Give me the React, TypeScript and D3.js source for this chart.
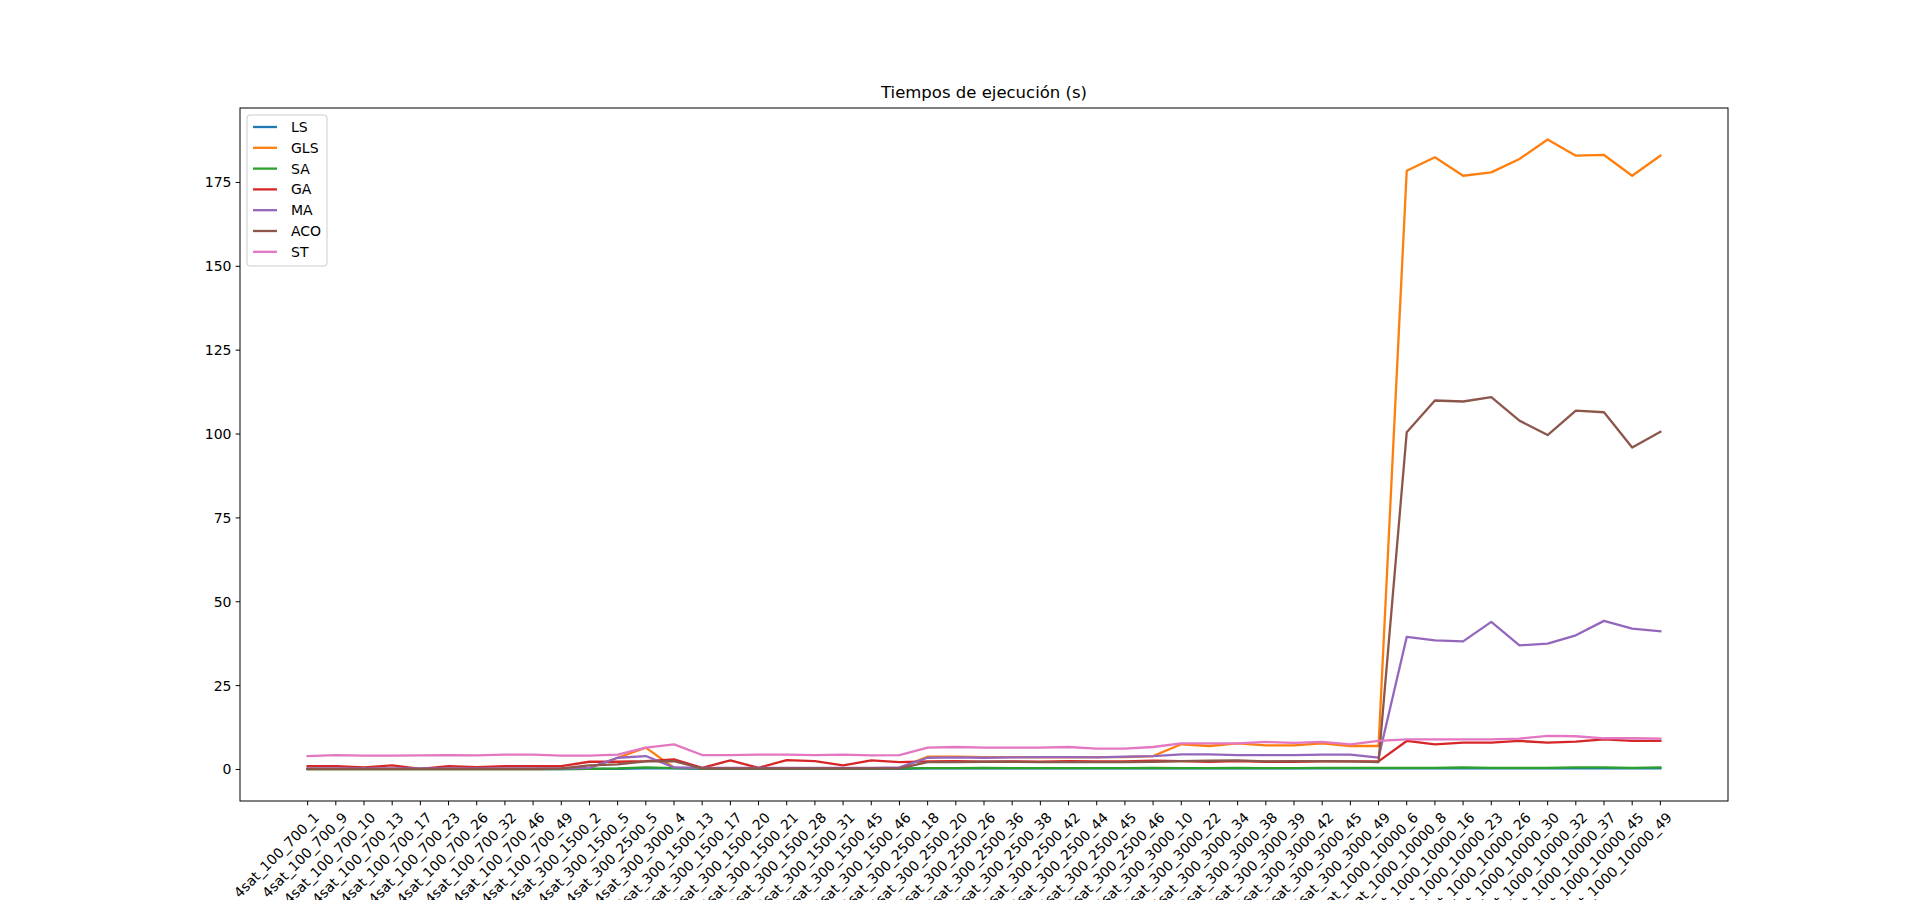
import React from "react";
import * as d3 from "d3";

const categories = [
  "4sat_100_700_1","4sat_100_700_9","4sat_100_700_10","4sat_100_700_13","4sat_100_700_17","4sat_100_700_23","4sat_100_700_26","4sat_100_700_32","4sat_100_700_46","4sat_100_700_49",
  "4sat_300_1500_2","4sat_300_1500_5","4sat_300_2500_5","4sat_300_3000_4",
  "4sat_300_1500_13","4sat_300_1500_17","4sat_300_1500_20","4sat_300_1500_21","4sat_300_1500_28","4sat_300_1500_31","4sat_300_1500_45","4sat_300_1500_46",
  "4sat_300_2500_18","4sat_300_2500_20","4sat_300_2500_26","4sat_300_2500_36","4sat_300_2500_38","4sat_300_2500_42","4sat_300_2500_44","4sat_300_2500_45","4sat_300_2500_46",
  "4sat_300_3000_10","4sat_300_3000_22","4sat_300_3000_34","4sat_300_3000_38","4sat_300_3000_39","4sat_300_3000_42","4sat_300_3000_45","4sat_300_3000_49",
  "4sat_1000_10000_6","4sat_1000_10000_8","4sat_1000_10000_16","4sat_1000_10000_23","4sat_1000_10000_26","4sat_1000_10000_30","4sat_1000_10000_32","4sat_1000_10000_37","4sat_1000_10000_45","4sat_1000_10000_49",
];

const LS = [0.1,0.1,0.1,0.1,0.1,0.1,0.1,0.1,0.1,0.1, 0.2,0.2,0.3,0.3, 0.2,0.2,0.2,0.2,0.2,0.2,0.2,0.2, 0.3,0.3,0.3,0.3,0.3,0.3,0.3,0.3,0.3, 0.3,0.3,0.3,0.3,0.3,0.3,0.3,0.3, 0.3,0.3,0.3,0.3,0.3,0.3,0.3,0.3,0.3,0.3];
const GLS = [0.1,0.1,0.1,0.1,0.1,0.1,0.1,0.1,0.1,0.2, 0.4,3.5,6.5,0.5, 0.4,0.4,0.4,0.4,0.4,0.4,0.4,0.5, 3.8,3.8,3.7,3.7,3.6,3.6,3.7,3.7,4.0, 7.5,7.0,7.8,7.2,7.2,7.8,7.0,7.0, 178.5,182.5,177,178,182,187.8,183,183.2,177,183];
const SA = [0.1,0.1,0.1,0.1,0.1,0.1,0.1,0.1,0.1,0.1, 0.2,0.3,0.6,0.4, 0.3,0.3,0.3,0.3,0.3,0.3,0.3,0.3, 0.4,0.4,0.5,0.4,0.4,0.4,0.4,0.4,0.5, 0.4,0.4,0.5,0.4,0.4,0.5,0.5,0.5, 0.5,0.5,0.6,0.5,0.5,0.5,0.6,0.6,0.5,0.6];
const GA = [1.0,1.0,0.6,1.2,0.2,1.0,0.7,1.0,1.0,1.0, 2.3,2.3,2.5,3.0, 0.5,2.7,0.5,2.8,2.5,1.2,2.7,2.2, 2.4,2.5,2.3,2.4,2.3,2.5,2.4,2.4,2.6, 2.5,2.3,2.5,2.3,2.3,2.4,2.4,2.4, 8.5,7.5,8.0,8.0,8.5,8.0,8.3,9.0,8.5,8.5];
const MA = [0.3,0.3,0.3,0.3,0.3,0.3,0.3,0.3,0.3,0.3, 0.5,3.5,4.0,0.6, 0.5,0.5,0.5,0.5,0.5,0.5,0.5,0.6, 3.5,3.6,3.5,3.6,3.7,3.7,3.6,3.8,4.0, 4.5,4.5,4.3,4.3,4.3,4.4,4.4,3.5, 39.5,38.5,38.2,44,37,37.5,40,44.3,42,41.2];
const ACO = [0.2,0.2,0.2,0.2,0.2,0.2,0.2,0.2,0.2,0.3, 1.2,1.5,2.4,2.5, 0.3,0.3,0.3,0.3,0.3,0.3,0.3,0.3, 2.2,2.2,2.3,2.3,2.2,2.2,2.2,2.2,2.3, 2.5,2.6,2.7,2.4,2.5,2.5,2.4,2.2, 100.5,110,109.7,111,104,99.7,107,106.5,96,100.7];
const ST = [4.0,4.3,4.1,4.1,4.2,4.3,4.2,4.4,4.4,4.1, 4.1,4.4,6.5,7.5, 4.3,4.3,4.4,4.4,4.3,4.4,4.2,4.3, 6.5,6.7,6.5,6.5,6.5,6.7,6.2,6.2,6.7, 7.8,7.8,7.8,8.2,7.9,8.2,7.5,8.5, 9.0,9.0,9.0,9.0,9.2,10.0,9.9,9.3,9.3,9.2];

const seriesNames = ["LS","GLS","SA","GA","MA","ACO","ST"];
const seriesData = [LS,GLS,SA,GA,MA,ACO,ST];
const colors = ["#1f77b4","#ff7f0e","#2ca02c","#d62728","#9467bd","#8c564b","#e377c2"];
const yTicks = [0,25,50,75,100,125,150,175];

export default function App() {
  const L = 240, R = 1728, T = 108, B = 801;
  const n = categories.length;
  const pad = (n - 1) * 0.05;
  const x = d3.scaleLinear().domain([-pad, n - 1 + pad]).range([L, R]);
  const y = d3.scaleLinear().domain([-9.4, 197.2]).range([B, T]);
  const line = d3.line<number>().x((_, i) => x(i)).y(d => y(d));
  const font = "DejaVu Sans, sans-serif";
  const fs = 14;
  return (
    <svg width={1920} height={900} style={{ position: "absolute", left: 0, top: 0, background: "#fff" }} fontFamily={font}>
      <rect x={0} y={0} width={1920} height={900} fill="#fff" />
      <g>
        {seriesData.map((s, k) => (
          <path key={k} d={line(s) || ""} fill="none" stroke={colors[k]} strokeWidth={2.3} strokeLinejoin="round" strokeLinecap="square" />
        ))}
      </g>
      <rect x={L} y={T} width={R - L} height={B - T} fill="none" stroke="#000" strokeWidth={1} />
      {yTicks.map(t => (
        <g key={t}>
          <line x1={L - 4.3} x2={L} y1={y(t)} y2={y(t)} stroke="#000" />
          <text x={L - 8.5} y={y(t)} dy="0.35em" textAnchor="end" fontSize={fs}>{t}</text>
        </g>
      ))}
      {categories.map((c, i) => (
        <g key={c}>
          <line x1={x(i)} x2={x(i)} y1={B} y2={B + 4.3} stroke="#000" />
          <text transform={`translate(${x(i) + 5},${B + 10}) rotate(-45)`} textAnchor="end" fontSize={fs} dy="0.75em">{c}</text>
        </g>
      ))}
      <text x={(L + R) / 2} y={T - 10} textAnchor="middle" fontSize={16.5}>Tiempos de ejecución (s)</text>
      <g transform={`translate(${L + 7},${T + 7})`}>
        <rect x={0} y={0} width={80} height={151} rx={3} fill="#fff" fillOpacity={0.8} stroke="#ccc" />
        {seriesNames.map((nm, k) => (
          <g key={nm} transform={`translate(0,${12 + k * 20.8})`}>
            <line x1={6} x2={30} y1={0} y2={0} stroke={colors[k]} strokeWidth={2.3} />
            <text x={44} y={0} dy="0.35em" fontSize={fs}>{nm}</text>
          </g>
        ))}
      </g>
    </svg>
  );
}
